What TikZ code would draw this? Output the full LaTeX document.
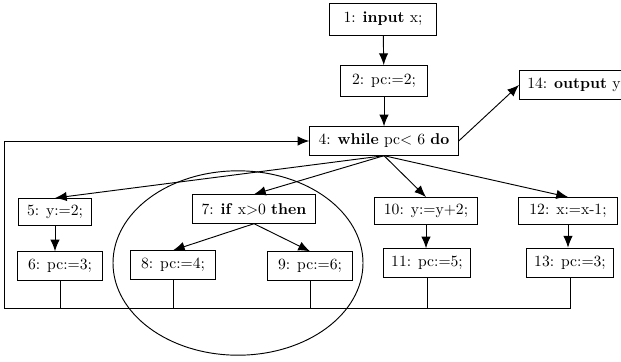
\documentclass[tikz,border=0pt]{standalone}
\usepackage{tikz}
\usetikzlibrary{shapes.geometric,arrows.meta,positioning}

\begin{document}
\begin{tikzpicture}[x=0.64pt,y=-0.64pt,line width=0.6pt,
  stmt/.style={draw,fill=white,inner xsep=5pt,minimum width=54pt,minimum height=18.2pt,align=center},
  arr/.style={-{Latex[length=7.5pt,width=6pt]}}]
\clip (0,0) rectangle (621,361);
\node[stmt,minimum width=68.5pt,minimum height=20.5pt] (n1) at (383,19) {1: \textbf{input} x;};
\node[stmt,minimum width=55.5pt,minimum height=19.8pt] (n2) at (384,81) {2: pc:=2;};
\node[stmt,minimum width=95pt] (n4) at (384,141) {4: \textbf{while} pc$<$ 6 \textbf{do}};
\node[stmt,anchor=west] (n14) at (519,85) {14: \textbf{output} y\hspace{12pt}};
\node[stmt,minimum width=46.5pt,minimum height=17.3pt] (n5) at (55,212) {5: y:=2;};
\node[stmt] (n6) at (60,266) {6: pc:=3;};
\node[stmt,minimum width=79pt] (n7) at (254,209) {7: \textbf{if} x$>$0 \textbf{then}};
\node[stmt] (n8) at (173,265) {8: pc:=4;};
\node[stmt] (n9) at (310,266) {9: pc:=6;};
\node[stmt,minimum width=66.5pt,minimum height=17.3pt] (n10) at (426,211) {10: y:=y+2;};
\node[stmt] (n11) at (427,263) {11: pc:=5;};
\node[stmt,minimum width=63.5pt,minimum height=17.3pt] (n12) at (568,211) {12: x:=x-1;};
\node[stmt,minimum height=19pt] (n13) at (570,263) {13: pc:=3;};
\node[draw,ellipse,minimum width=160pt,minimum height=118pt,inner sep=0pt] (grp) at (238,263) {};
\coordinate (bl) at (4,308);
\draw[arr] (n1)--(n2); \draw[arr] (n2)--(n4); \draw[arr] (n4.east)--(n14.west);
\draw[arr] (n4.south)--(n5.north); \draw[arr] (n4.south)--(n7.north);
\draw[arr] (n4.south)--(n10.north); \draw[arr] (n4.south)--(n12.north);
\draw[arr] (n5.south)--(n5.south |- n6.north); \draw[arr] (n7.south)--(n8.north); \draw[arr] (n7.south)--(n9.north);
\draw[arr] (n10.south)--(n10.south |- n11.north); \draw[arr] (n12.south)--(n12.south |- n13.north);
% back edges into the loop head
\draw (n6.south)--(n6.south |- bl); \draw (n8.south)--(n8.south |- bl);
\draw (n9.south)--(n9.south |- bl); \draw (n11.south)--(n11.south |- bl);
\draw[arr] (n13.south) |- (bl) |- (n4.west);
\end{tikzpicture}
\end{document}
